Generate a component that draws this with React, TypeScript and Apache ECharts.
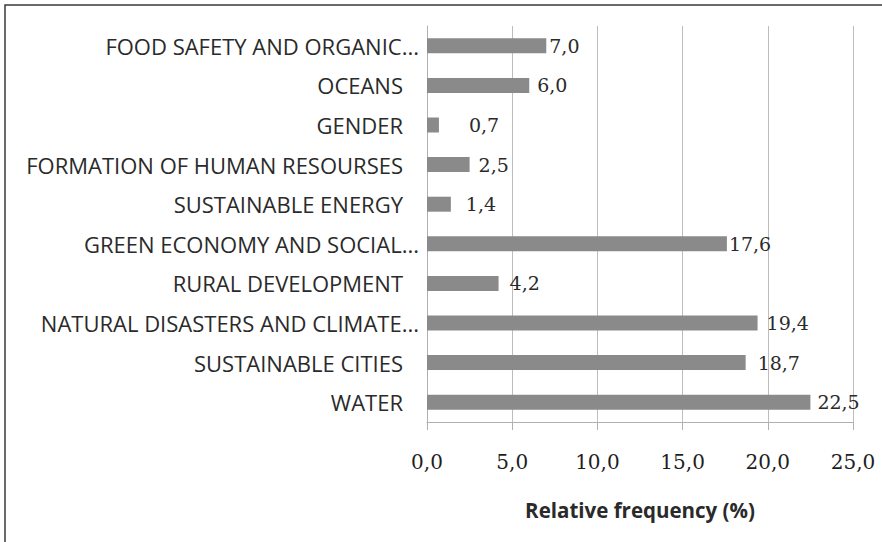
import React, { useEffect, useRef } from "react";
import * as echarts from "echarts";

const categories = [
  "FOOD SAFETY AND ORGANIC...",
  "OCEANS",
  "GENDER",
  "FORMATION OF HUMAN RESOURSES",
  "SUSTAINABLE ENERGY",
  "GREEN ECONOMY AND SOCIAL...",
  "RURAL DEVELOPMENT",
  "NATURAL DISASTERS AND CLIMATE...",
  "SUSTAINABLE CITIES",
  "WATER",
];
const values = [7.0, 6.0, 0.7, 2.5, 1.4, 17.6, 4.2, 19.4, 18.7, 22.5];
const xTicks = [0, 5, 10, 15, 20, 25];
const axisTitle = "Relative frequency (%)";

const fmt = (v: number) => v.toFixed(1).replace(".", ",");

export default function App() {
  const ref = useRef<HTMLDivElement>(null);
  useEffect(() => {
    if (!ref.current) return;
    const chart = echarts.init(ref.current, undefined, { renderer: "svg" });
    const labelFont = "'Open Sans', 'DejaVu Sans', sans-serif";
    const numFont = "'DejaVu Serif', serif";
    const catSize = 22;
    // label gaps (px) to the right of each bar, as placed in the original figure
    const labelGap = [3, 8, 30, 9, 15, 2, 11, 9, 12, 7];
    chart.setOption({
      animation: false,
      backgroundColor: "#ffffff",
      graphic: [
        {
          type: "rect",
          shape: { x: 5, y: 5, width: 1000, height: 700 },
          style: { fill: "none", stroke: "#3a3a3a", lineWidth: 1.5 },
          silent: true,
        },
      ],
      grid: { left: 427, right: 29, top: 26, bottom: 120, containLabel: false },
      xAxis: {
        type: "value",
        min: xTicks[0],
        max: xTicks[xTicks.length - 1],
        interval: xTicks[1] - xTicks[0],
        name: axisTitle,
        nameLocation: "middle",
        nameGap: 77,
        nameTextStyle: {
          fontFamily: labelFont,
          fontWeight: "bold",
          fontSize: 20.5,
          color: "#2a2a2a",
        },
        axisLine: { show: true, lineStyle: { color: "#b0b0b0", width: 1 } },
        axisTick: { show: true, length: 8, inside: false, lineStyle: { color: "#b0b0b0" } },
        axisLabel: {
          margin: 30,
          formatter: (v: number) => fmt(v),
          fontFamily: numFont,
          fontSize: 20,
          color: "#1e1e1e",
        },
        splitLine: { show: true, lineStyle: { color: "#bdbdbd", width: 1 } },
      },
      yAxis: {
        type: "category",
        inverse: true,
        data: categories,
        axisLine: { show: true, lineStyle: { color: "#b0b0b0", width: 1 } },
        axisTick: { show: false },
        axisLabel: {
          margin: 8,
          fontFamily: labelFont,
          fontSize: catSize,
          color: "#2a2a2a",
          formatter: (v: string) => (v.endsWith("...") ? `{t|${v}}` : `{n|${v}}`),
          rich: {
            t: { fontFamily: labelFont, fontSize: catSize, color: "#2a2a2a" },
            n: { fontFamily: labelFont, fontSize: catSize, color: "#2a2a2a", padding: [0, 16, 0, 0] },
          },
        },
        splitLine: { show: false },
      },
      series: [
        {
          type: "bar",
          data: values.map((v, i) => ({ value: v, label: { distance: labelGap[i] } })),
          barWidth: 15,
          itemStyle: { color: "#8a8a8a" },
          label: {
            show: true,
            position: "right",
            distance: 4,
            formatter: (p: any) => fmt(p.value),
            fontFamily: numFont,
            fontSize: 19,
            color: "#2a2a2a",
          },
        },
      ],
    });
    return () => chart.dispose();
  }, []);
  return (
    <div
      ref={ref}
      style={{ position: "fixed", left: 0, top: 0, width: 882, height: 542 }}
    />
  );
}
